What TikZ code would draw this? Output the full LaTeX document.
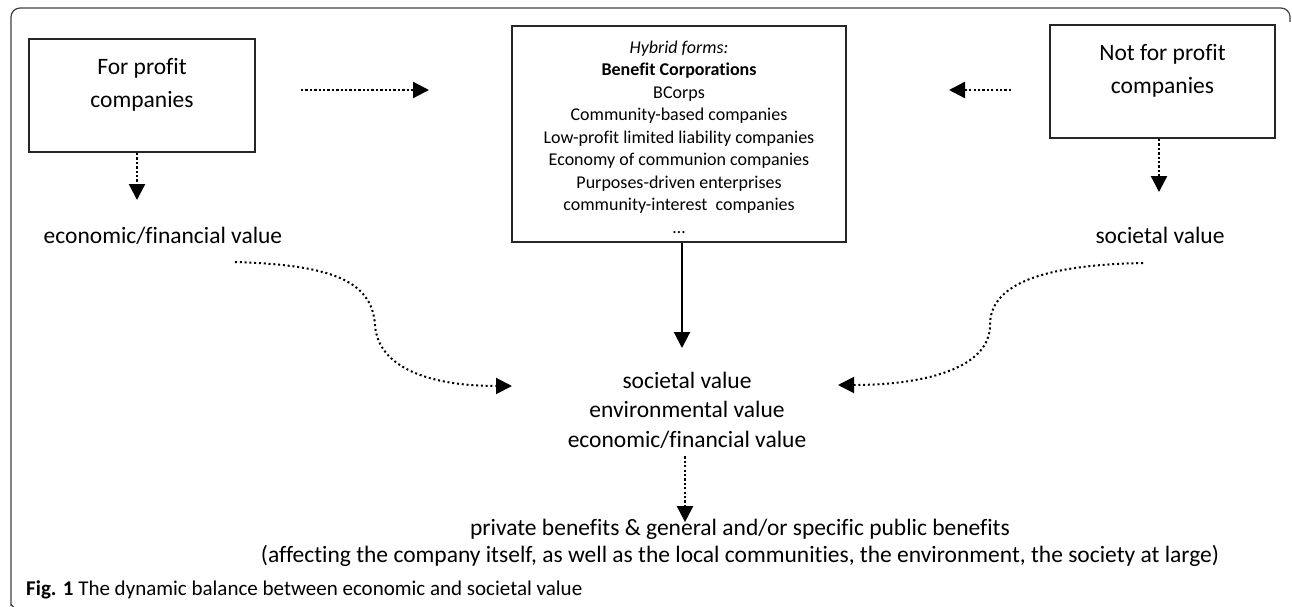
\documentclass[tikz,border=0pt]{standalone}
\usepackage{fontspec}
\setmainfont{Carlito}[Ligatures={NoCommon}]
\usetikzlibrary{arrows.meta}
\begin{document}
\begin{tikzpicture}[x=1pt,y=-1pt,
  box/.style={draw=black!85, line width=2pt, inner sep=0pt},
  maintext/.style={font=\fontsize{23.5}{33}\selectfont, align=center, inner sep=0pt},
  listtext/.style={font=\fontsize{18}{22.5}\selectfont, align=center, inner sep=0pt},
  tip/.style={-{Triangle[length=16pt,width=16pt]}},
  dotarrow/.style={tip, line width=2.3pt, dash pattern=on 2.3pt off 2.1pt},
  curvearrow/.style={tip, line width=2pt, dash pattern=on 2pt off 2.8pt},
  solidarrow/.style={tip, line width=2.2pt},
  frame/.style={draw=black!75, line width=1.2pt}
]
\useasboundingbox (0,0) rectangle (1292,607);
% outer frame
\draw[frame, rounded corners=9pt] (13.5,607) .. controls (11,605) and (11,603) .. (11,597) -- (11,8) -- (1290,8) -- (1290,22);
% boxes
\node[box, minimum width=226pt, minimum height=113pt] (fp) at (142,95.5) {};
\node[maintext] (fpt) at (142,85) {For profit\\companies};
\node[box, minimum width=334pt, minimum height=216pt] (hy) at (679,134) {};
\node[listtext] (hyt) at (679,137) {\textit{Hybrid forms:}\\\textbf{Benefit Corporations}\\BCorps\\Community-based companies\\Low-profit limited liability companies\\Economy of communion companies\\Purposes-driven enterprises\\community-interest\ \ companies\\…};
\node[box, minimum width=225pt, minimum height=113pt] (np) at (1162.5,81.5) {};
\node[maintext] (npt) at (1162.5,71) {Not for profit\\companies};
% value labels
\node[maintext, anchor=base] (ev) at (163,243) {economic/financial value};
\node[maintext, anchor=base] (sv) at (1160,243) {societal value};
\node[maintext, font=\fontsize{23.5}{29.5}\selectfont] (cv) at (687,410) {societal value\\environmental value\\economic/financial value};
\node[maintext, font=\fontsize{23.5}{27}\selectfont] (pb) at (740,543) {private benefits \& general and/or specific public benefits\\(affecting the company itself, as well as the local communities, the environment, the society at large)};
\node[anchor=base west, font=\fontsize{21}{24}\selectfont, inner sep=0pt] (cap) at (26,595) {\textbf{Fig. 1} The dynamic balance between economic and societal value};
% coordinates for connector ends
\coordinate (fpdown) at (137,200);
\coordinate (npdown) at (1159,192);
\coordinate (lstart) at (235,262);
\coordinate (lend) at (512,386);
\coordinate (rstart) at (1143,263);
\coordinate (rend) at (838,385);
% connectors
\draw[dotarrow] ([xshift=-5pt]fp.south) -- (fpdown);
\draw[dotarrow] ([xshift=-3.5pt]np.south) -- (npdown);
\draw[dotarrow, shorten <=45pt, shorten >=82pt] ([yshift=5.5pt]fp.east) -- ([yshift=5.5pt]fp.east -| hy.west);
\draw[dotarrow, shorten <=38pt, shorten >=102pt] ([yshift=-8.5pt]np.west) -- ([yshift=-8.5pt]np.west -| hy.east);
\draw[solidarrow] ([xshift=3pt]hy.south) -- ++(0,105);
\draw[curvearrow] (lstart) .. controls (330,265) and (372,280) .. (375,325) .. controls (378,368) and (430,386) .. (lend);
\draw[curvearrow] (rstart) .. controls (1040,265) and (990,285) .. (990,325) .. controls (990,370) and (920,385) .. (rend);
\draw[dotarrow, shorten <=8pt, shorten >=-3pt] ([xshift=-2pt]cv.south) -- ([xshift=-2pt]cv.south |- pb.north);
\end{tikzpicture}
\end{document}
